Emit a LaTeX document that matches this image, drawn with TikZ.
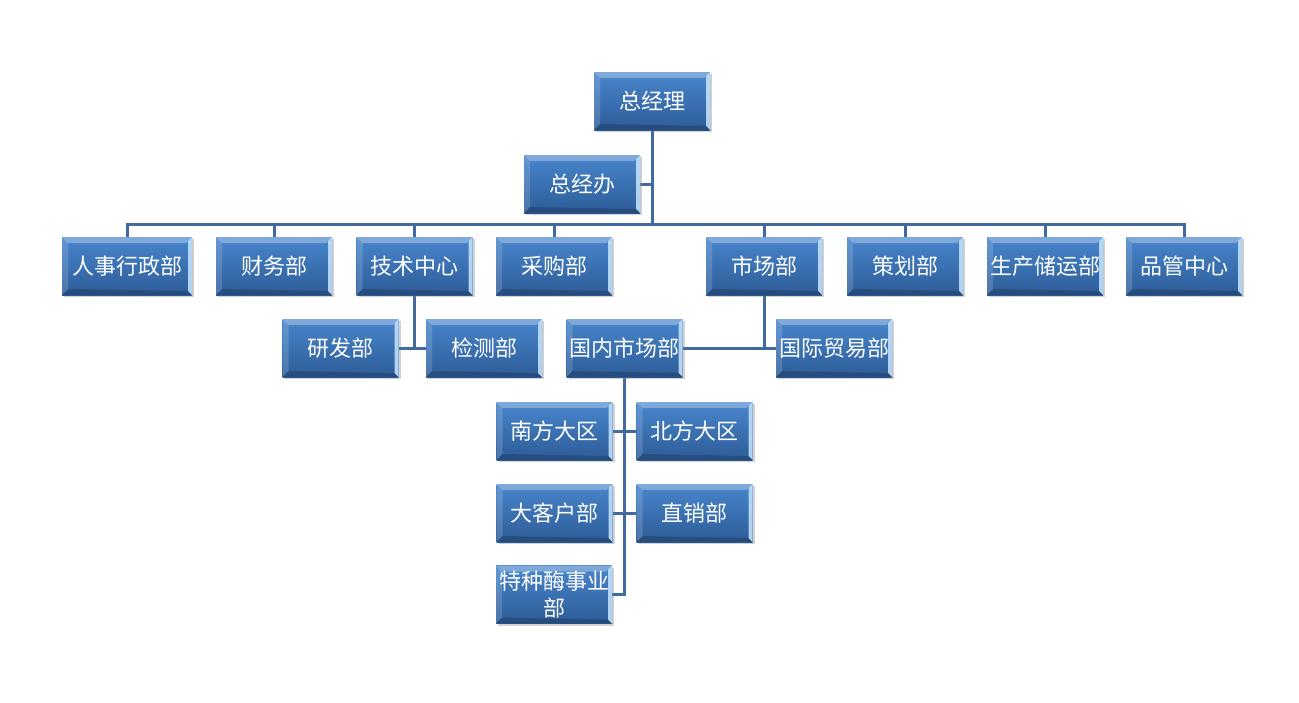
\documentclass[tikz,border=0pt]{standalone}
\usepackage{fontspec}
\newfontfamily\cjk{Noto Sans CJK SC}
\usetikzlibrary{shadows,backgrounds,calc}
\definecolor{linecol}{RGB}{66,106,160}
\definecolor{boxtop}{RGB}{72,134,204}
\definecolor{boxbot}{RGB}{46,92,152}
\definecolor{hilite}{RGB}{200,230,255}
\tikzset{
  bevbox/.style={minimum width=116pt, minimum height=58pt, inner sep=0pt, text=white,
    font=\cjk\fontsize{22}{27}\selectfont, align=center,
    top color=boxtop, bottom color=boxbot,
    drop shadow={shadow xshift=2pt, shadow yshift=-2pt, opacity=0.35, fill=gray},
    path picture={
      \coordinate (NW) at (path picture bounding box.north west);
      \coordinate (NE) at (path picture bounding box.north east);
      \coordinate (SW) at (path picture bounding box.south west);
      \coordinate (SE) at (path picture bounding box.south east);
      \fill[white,opacity=0.30] (NW) -- (NE) -- ($(NE)+(-6pt,-6pt)$) -- ($(NW)+(6pt,-6pt)$) -- cycle;
      \fill[white,opacity=0.15] (NW) -- ($(NW)+(6pt,-6pt)$) -- ($(SW)+(6pt,6pt)$) -- (SW) -- cycle;
      \fill[hilite,opacity=0.85] (NE) -- (SE) -- ($(SE)+(-4pt,4pt)$) -- ($(NE)+(-4pt,-4pt)$) -- cycle;
      \fill[black,opacity=0.18] (SW) -- (SE) -- ($(SE)+(-4pt,4pt)$) -- ($(SW)+(6pt,6pt)$) -- cycle;
    }},
  conn/.style={draw=linecol, line width=3pt}
}
\begin{document}
\begin{tikzpicture}[x=1pt,y=-1pt]
\useasboundingbox (0,0) rectangle (1299,702);
% nodes
\node[bevbox] (zjl) at (652,101) {总经理};
\node[bevbox] (zjb) at (582,184) {总经办};
\node[bevbox, minimum width=130pt] (rs) at (127,266) {人事行政部};
\node[bevbox] (cw) at (274,266) {财务部};
\node[bevbox] (js) at (414.5,266) {技术中心};
\node[bevbox] (cg) at (554,266) {采购部};
\node[bevbox] (sc) at (764,266) {市场部};
\node[bevbox] (ch) at (905,266) {策划部};
\node[bevbox] (sccy) at (1045,266) {生产储运部};
\node[bevbox] (pg) at (1184,266) {品管中心};
\node[bevbox] (yf) at (340.5,348) {研发部};
\node[bevbox] (jc) at (484,348) {检测部};
\node[bevbox] (gn) at (624.5,348) {国内市场部};
\node[bevbox] (gj) at (834,348) {国际贸易部};
\node[bevbox] (nf) at (554.5,431) {南方大区};
\node[bevbox] (bf) at (694.5,431) {北方大区};
\node[bevbox] (dk) at (554.5,513) {大客户部};
\node[bevbox] (zx) at (694.5,513) {直销部};
\node[bevbox] (tz) at (554,594.5) {特种酶事业\\部};
\coordinate (bus) at (652,224);
% connectors
\begin{scope}[on background layer]
\fill[white] (0,0) rectangle (1299,702);
\draw[conn] (zjl.south) -- (bus);
\draw[conn] (zjb.east) -- (zjb.east -| zjl.south);
\draw[conn] (rs.north) -- (rs.north |- bus) -| (pg.north);
\foreach \n in {cw,js,cg,sc,ch,sccy} {
  \draw[conn] (\n.north) -- (\n.north |- bus);
}
\draw[conn] (js.south) -- (js.south |- yf.east);
\draw[conn] (yf.east) -- (jc.west);
\draw[conn] (sc.south) -- (sc.south |- gn.east);
\draw[conn] (gn.east) -- (gj.west);
\draw[conn] (gn.south) -- (gn.south |- tz.east) -- (tz.east);
\draw[conn] (nf.east) -- (bf.west);
\draw[conn] (dk.east) -- (zx.west);
\end{scope}
\end{tikzpicture}
\end{document}
